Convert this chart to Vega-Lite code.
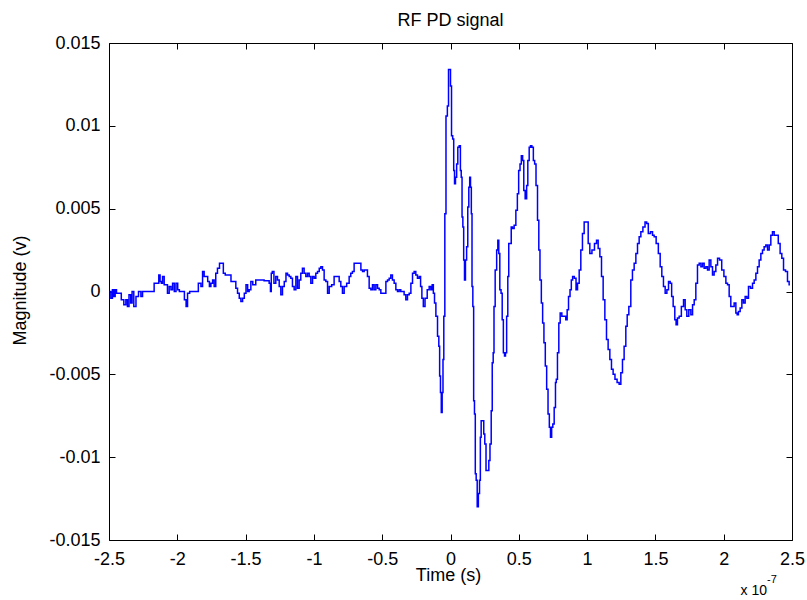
{
  "$schema": "https://vega.github.io/schema/vega-lite/v6.json",
  "width": 683,
  "height": 497,
  "autosize": {"type": "none"},
  "padding": {"left": 109, "top": 43, "right": 15, "bottom": 60},
  "background": "white",
  "title": {"text": "RF PD signal", "fontSize": 18, "font": "Liberation Sans", "fontWeight": "normal", "color": "black", "baseline": "alphabetic", "offset": 15, "dy": 25, "anchor": "middle"},
  "config": {
    "view": {"stroke": "black", "strokeWidth": 1},
    "axis": {"domain": false, "grid": false, "tickColor": "black", "tickSize": -6, "tickWidth": 1, "labelFont": "Liberation Sans", "labelFontSize": 18, "labelColor": "black", "titleFont": "Liberation Sans", "titleFontSize": 18, "titleFontWeight": "normal", "titleColor": "black", "labelFlush": false, "labelOverlap": false, "labelBound": false}
  },
  "layer": [
    {
      "data": {"values": [
        {"t":-2.493,"v":0.0},{"t":-2.48,"v":-0.0004},{"t":-2.47,"v":0.0001},{"t":-2.46,"v":-0.0003},{"t":-2.45,"v":0.0001},{"t":-2.44,"v":-0.0001},{"t":-2.42,"v":-0.0001},{"t":-2.4,"v":-0.0005},{"t":-2.383,"v":-0.0008},{"t":-2.37,"v":-0.0005},{"t":-2.36,"v":-0.0009},{"t":-2.347,"v":-0.0002},{"t":-2.335,"v":-0.0007},{"t":-2.327,"v":0.0},{"t":-2.31,"v":-0.0009},{"t":-2.295,"v":-0.0003},{"t":-2.273,"v":0.0},{"t":-2.26,"v":-0.0003},{"t":-2.249,"v":0.0},{"t":-2.176,"v":0.0},{"t":-2.163,"v":0.0005},{"t":-2.139,"v":0.0005},{"t":-2.132,"v":0.001},{"t":-2.12,"v":0.0006},{"t":-2.114,"v":0.0005},{"t":-2.102,"v":0.0009},{"t":-2.09,"v":0.0004},{"t":-2.078,"v":0.0004},{"t":-2.066,"v":-0.0001},{"t":-2.053,"v":0.0003},{"t":-2.04,"v":0.0001},{"t":-2.029,"v":0.0005},{"t":-2.015,"v":0.0},{"t":-2.004,"v":0.0005},{"t":-1.99,"v":0.0001},{"t":-1.98,"v":0.0},{"t":-1.956,"v":0.0},{"t":-1.94,"v":-0.0005},{"t":-1.931,"v":-0.0009},{"t":-1.919,"v":-0.0001},{"t":-1.9,"v":0.0},{"t":-1.858,"v":0.0},{"t":-1.834,"v":0.0005},{"t":-1.82,"v":0.0003},{"t":-1.81,"v":0.0012},{"t":-1.797,"v":0.0009},{"t":-1.785,"v":0.0009},{"t":-1.77,"v":0.0006},{"t":-1.76,"v":0.0003},{"t":-1.748,"v":0.0005},{"t":-1.735,"v":0.0007},{"t":-1.725,"v":0.0003},{"t":-1.712,"v":0.0011},{"t":-1.7,"v":0.0014},{"t":-1.682,"v":0.0017},{"t":-1.668,"v":0.0017},{"t":-1.658,"v":0.0011},{"t":-1.64,"v":0.001},{"t":-1.614,"v":0.001},{"t":-1.6,"v":0.0006},{"t":-1.578,"v":0.0006},{"t":-1.565,"v":0.0002},{"t":-1.553,"v":-0.0001},{"t":-1.54,"v":-0.0004},{"t":-1.529,"v":-0.0006},{"t":-1.515,"v":-0.0004},{"t":-1.504,"v":-0.0001},{"t":-1.49,"v":0.0004},{"t":-1.48,"v":0.0},{"t":-1.468,"v":0.0001},{"t":-1.455,"v":0.0006},{"t":-1.44,"v":0.0004},{"t":-1.431,"v":0.0004},{"t":-1.42,"v":0.0007},{"t":-1.407,"v":0.0007},{"t":-1.395,"v":0.0007},{"t":-1.334,"v":0.00065},
        {"t":-1.321,"v":0.0005},{"t":-1.315,"v":0.0},{"t":-1.309,"v":0.0011},{"t":-1.3,"v":0.0012},{"t":-1.285,"v":0.0005},{"t":-1.273,"v":0.0009},{"t":-1.26,"v":0.0007},{"t":-1.248,"v":0.0003},{"t":-1.236,"v":-0.0002},{"t":-1.224,"v":0.0003},{"t":-1.21,"v":0.0006},{"t":-1.199,"v":0.0011},{"t":-1.187,"v":0.001},{"t":-1.175,"v":0.0009},{"t":-1.163,"v":0.0008},{"t":-1.151,"v":0.0003},{"t":-1.138,"v":0.0001},{"t":-1.126,"v":0.0009},{"t":-1.114,"v":0.0002},{"t":-1.102,"v":0.0007},{"t":-1.09,"v":0.0011},{"t":-1.078,"v":0.0014},{"t":-1.065,"v":0.0011},{"t":-1.053,"v":0.0009},{"t":-1.04,"v":0.0011},{"t":-1.029,"v":0.0009},{"t":-1.016,"v":0.0005},{"t":-1.004,"v":0.0009},{"t":-0.992,"v":0.0008},{"t":-0.98,"v":0.0011},{"t":-0.967,"v":0.0012},{"t":-0.955,"v":0.0014},{"t":-0.943,"v":0.0015},{"t":-0.931,"v":0.0013},{"t":-0.919,"v":0.0007},{"t":-0.906,"v":0.0006},{"t":-0.894,"v":-0.0001},{"t":-0.882,"v":0.0003},{"t":-0.858,"v":0.0004},{"t":-0.846,"v":0.0009},{"t":-0.821,"v":0.0009},{"t":-0.809,"v":0.0006},{"t":-0.797,"v":0.0003},{"t":-0.785,"v":-0.0001},{"t":-0.772,"v":0.0003},{"t":-0.748,"v":0.0005},{"t":-0.736,"v":0.0009},{"t":-0.724,"v":0.0011},{"t":-0.712,"v":0.0012},{"t":-0.699,"v":0.0017},{"t":-0.662,"v":0.0017},{"t":-0.65,"v":0.0013},{"t":-0.638,"v":0.0012},{"t":-0.626,"v":0.0013},{"t":-0.614,"v":0.0013},{"t":-0.602,"v":0.0009},{"t":-0.589,"v":0.0002},{"t":-0.577,"v":0.0001},{"t":-0.565,"v":0.0004},{"t":-0.553,"v":0.0001},{"t":-0.54,"v":0.0004},{"t":-0.528,"v":0.0002},{"t":-0.516,"v":0.0001},{"t":-0.504,"v":-0.0001},{"t":-0.479,"v":-0.0001},{"t":-0.467,"v":0.0006},{"t":-0.455,"v":0.0007},{"t":-0.443,"v":0.0008},{"t":-0.431,"v":0.001},{"t":-0.419,"v":0.0007},{"t":-0.406,"v":0.0005},{"t":-0.394,"v":0.0001},{"t":-0.382,"v":0.0},{"t":-0.37,"v":0.0001},{"t":-0.358,"v":0.0},{"t":-0.346,"v":0.0},{"t":-0.333,"v":-0.0002},{"t":-0.321,"v":-0.0005},{"t":-0.309,"v":-0.0002},{"t":-0.296,"v":-0.0001},{"t":-0.284,"v":0.0005},{"t":-0.272,"v":0.0011},{"t":-0.26,"v":0.0012},{"t":-0.248,"v":0.001},{"t":-0.236,"v":0.0008},
        {"t":-0.223,"v":0.0009},{"t":-0.215,"v":0.0003},{"t":-0.204,"v":-0.0004},{"t":-0.194,"v":-0.0009},{"t":-0.179,"v":-0.0004},{"t":-0.162,"v":0.0001},{"t":-0.15,"v":0.0003},{"t":-0.138,"v":0.0001},{"t":-0.13,"v":0.0004},{"t":-0.121,"v":-0.0001},{"t":-0.113,"v":-0.0007},{"t":-0.101,"v":-0.0015},{"t":-0.089,"v":-0.0027},{"t":-0.082,"v":-0.0033},{"t":-0.077,"v":-0.0051},{"t":-0.07,"v":-0.0061},{"t":-0.065,"v":-0.0073},{"t":-0.057,"v":-0.0061},{"t":-0.053,"v":-0.0041},{"t":-0.045,"v":-0.0015},{"t":-0.038,"v":0.0047},{"t":-0.028,"v":0.0106},{"t":-0.018,"v":0.0112},{"t":-0.011,"v":0.0134},{"t":-0.004,"v":0.0134},{"t":0.004,"v":0.0124},{"t":0.011,"v":0.0094},{"t":0.021,"v":0.0092},{"t":0.026,"v":0.0073},{"t":0.033,"v":0.0065},{"t":0.04,"v":0.0069},{"t":0.05,"v":0.0077},{"t":0.057,"v":0.0087},{"t":0.07,"v":0.0088},{"t":0.075,"v":0.0073},{"t":0.082,"v":0.0069},{"t":0.087,"v":0.0045},{"t":0.094,"v":0.0039},{"t":0.099,"v":0.0019},{"t":0.106,"v":0.0007},{"t":0.113,"v":0.0019},{"t":0.123,"v":0.0027},{"t":0.13,"v":0.0051},{"t":0.138,"v":0.0063},{"t":0.143,"v":0.0069},{"t":0.15,"v":0.0063},{"t":0.155,"v":0.0047},{"t":0.16,"v":0.0003},{"t":0.167,"v":-0.0009},{"t":0.172,"v":-0.0066},{"t":0.179,"v":-0.0074},{"t":0.184,"v":-0.011},{"t":0.192,"v":-0.0114},{"t":0.199,"v":-0.013},{"t":0.209,"v":-0.0122},{"t":0.216,"v":-0.0114},{"t":0.221,"v":-0.0088},{"t":0.228,"v":-0.0078},{"t":0.24,"v":-0.0078},{"t":0.247,"v":-0.0086},{"t":0.255,"v":-0.0092},{"t":0.265,"v":-0.0108},{"t":0.277,"v":-0.0108},{"t":0.284,"v":-0.0102},{"t":0.294,"v":-0.0092},{"t":0.302,"v":-0.0072},{"t":0.309,"v":-0.0043},{"t":0.316,"v":-0.0037},{"t":0.321,"v":-0.0009},{"t":0.333,"v":0.0013},{"t":0.343,"v":0.0025},{"t":0.35,"v":0.0031},{"t":0.357,"v":0.0023},{"t":0.365,"v":0.0001},{"t":0.375,"v":-0.0001},{"t":0.382,"v":-0.0017},{"t":0.392,"v":-0.0037},{"t":0.399,"v":-0.0039},{"t":0.406,"v":-0.0037},{"t":0.416,"v":-0.0015},{"t":0.423,"v":0.0009},{"t":0.43,"v":0.0029},{"t":0.441,"v":0.0029},{"t":0.448,"v":0.0039},{"t":0.46,"v":0.0038},{"t":0.472,"v":0.004},{"t":0.485,"v":0.0049},{"t":0.494,"v":0.0059},{"t":0.504,"v":0.0073},{"t":0.514,"v":0.0077},{"t":0.523,"v":0.0082},{"t":0.533,"v":0.0079},{"t":0.54,"v":0.0061},{"t":0.553,"v":0.0056},{"t":0.562,"v":0.0064},{"t":0.57,"v":0.0079},{"t":0.582,"v":0.0087},{"t":0.589,"v":0.0088},{"t":0.602,"v":0.0087},{"t":0.611,"v":0.0079},{"t":0.621,"v":0.0077},{"t":0.631,"v":0.0064},{"t":0.643,"v":0.0043},{"t":0.65,"v":0.0025},{"t":0.66,"v":0.0007},{"t":0.67,"v":-0.0007},{"t":0.679,"v":-0.0019},{"t":0.689,"v":-0.0031},{"t":0.699,"v":-0.0045},{"t":0.709,"v":-0.0059},{"t":0.719,"v":-0.0074},{"t":0.728,"v":-0.0082},{"t":0.736,"v":-0.0088},{"t":0.745,"v":-0.0082},{"t":0.753,"v":-0.008},{"t":0.765,"v":-0.007},{"t":0.772,"v":-0.0055},
        {"t":0.777,"v":-0.0053},{"t":0.789,"v":-0.0037},{"t":0.797,"v":-0.0019},{"t":0.809,"v":-0.0013},{"t":0.821,"v":-0.0015},{"t":0.838,"v":-0.0015},{"t":0.85,"v":-0.0017},{"t":0.858,"v":-0.0011},{"t":0.87,"v":-0.0003},{"t":0.88,"v":0.0001},{"t":0.889,"v":0.0007},{"t":0.899,"v":0.0009},{"t":0.914,"v":0.0008},{"t":0.924,"v":0.0001},{"t":0.936,"v":0.0005},{"t":0.948,"v":0.0013},{"t":0.96,"v":0.0025},{"t":0.972,"v":0.0035},{"t":0.985,"v":0.0042},{"t":1.002,"v":0.0042},{"t":1.014,"v":0.0029},{"t":1.026,"v":0.0023},{"t":1.045,"v":0.0025},{"t":1.063,"v":0.0029},{"t":1.075,"v":0.0031},{"t":1.087,"v":0.0026},{"t":1.1,"v":0.0021},{"t":1.111,"v":0.0009},{"t":1.124,"v":-0.0005},{"t":1.136,"v":-0.0017},{"t":1.148,"v":-0.0029},{"t":1.16,"v":-0.0035},{"t":1.173,"v":-0.0041},{"t":1.184,"v":-0.0047},{"t":1.197,"v":-0.005},{"t":1.211,"v":-0.0053},{"t":1.228,"v":-0.0055},{"t":1.241,"v":-0.0056},{"t":1.253,"v":-0.0049},{"t":1.265,"v":-0.0041},{"t":1.277,"v":-0.0033},{"t":1.29,"v":-0.0021},{"t":1.297,"v":-0.0014},{"t":1.314,"v":-0.0009},{"t":1.326,"v":0.0007},{"t":1.338,"v":0.0013},{"t":1.351,"v":0.0017},{"t":1.363,"v":0.0023},{"t":1.375,"v":0.0029},{"t":1.387,"v":0.0033},{"t":1.4,"v":0.0036},{"t":1.417,"v":0.0039},{"t":1.431,"v":0.0042},{"t":1.441,"v":0.0041},{"t":1.455,"v":0.0035},{"t":1.473,"v":0.0036},{"t":1.485,"v":0.0034},{"t":1.497,"v":0.0033},{"t":1.514,"v":0.0029},{"t":1.529,"v":0.0023},{"t":1.541,"v":0.0015},{"t":1.553,"v":0.0009},{"t":1.565,"v":0.0003},{"t":1.578,"v":-0.0001},{"t":1.59,"v":0.0001},{"t":1.602,"v":0.0006},{"t":1.614,"v":0.0005},{"t":1.624,"v":-0.0003},{"t":1.636,"v":-0.0009},{"t":1.648,"v":-0.0017},{"t":1.655,"v":-0.002},{"t":1.668,"v":-0.0016},{"t":1.68,"v":-0.0015},{"t":1.7,"v":-0.0009},{"t":1.712,"v":-0.0005},{"t":1.724,"v":-0.0011},{"t":1.736,"v":-0.0015},{"t":1.753,"v":-0.0011},{"t":1.766,"v":-0.0014},{"t":1.778,"v":-0.0008},{"t":1.79,"v":-0.0005},{"t":1.802,"v":0.0005},{"t":1.814,"v":0.0016},{"t":1.827,"v":0.0017},{"t":1.839,"v":0.0015},{"t":1.851,"v":0.0017},{"t":1.863,"v":0.0014},{"t":1.876,"v":0.0015},{"t":1.887,"v":0.0013},{"t":1.9,"v":0.0019},{"t":1.912,"v":0.0015},{"t":1.924,"v":0.001},{"t":1.936,"v":0.0012},{"t":1.949,"v":0.0016},{"t":1.961,"v":0.002},{"t":1.978,"v":0.0019},{"t":1.993,"v":0.0013},{"t":2.01,"v":0.0009},{"t":2.022,"v":0.0005},{"t":2.034,"v":0.0004},{"t":2.046,"v":-0.0003},{"t":2.058,"v":-0.0009},{"t":2.07,"v":-0.0009},{"t":2.083,"v":-0.0007},{"t":2.095,"v":-0.0013},{"t":2.102,"v":-0.0014},{"t":2.114,"v":-0.0012},{"t":2.127,"v":-0.001},{"t":2.139,"v":-0.0005},{"t":2.151,"v":-0.0007},{"t":2.163,"v":-0.0003},{"t":2.176,"v":-0.0004},{"t":2.187,"v":0.0003},{"t":2.205,"v":0.0002},{"t":2.217,"v":0.0005},{"t":2.229,"v":0.0007},{"t":2.242,"v":0.0011},{"t":2.253,"v":0.0015},{"t":2.266,"v":0.0019},{"t":2.278,"v":0.0023},{"t":2.29,"v":0.0025},{"t":2.302,"v":0.0027},{"t":2.315,"v":0.0028},{"t":2.327,"v":0.0025},{"t":2.339,"v":0.0028},{"t":2.351,"v":0.0034},{"t":2.363,"v":0.0036},{"t":2.376,"v":0.0034},{"t":2.392,"v":0.0034},{"t":2.407,"v":0.0029},{"t":2.419,"v":0.0023},{"t":2.432,"v":0.002},{"t":2.444,"v":0.0013},{"t":2.461,"v":0.0012},{"t":2.473,"v":0.0006},{"t":2.485,"v":0.0004}
      ]},
      "mark": {"type": "line", "color": "#0000ff", "strokeWidth": 1.5, "interpolate": "step", "clip": true},
      "encoding": {
        "x": {"field": "t", "type": "quantitative", "scale": {"domain": [-2.5, 2.5], "nice": false, "zero": false},
              "axis": {"orient": "bottom", "values": [-2.5, -2, -1.5, -1, -0.5, 0, 0.5, 1, 1.5, 2, 2.5], "labelExpr": "'' + datum.value", "labelBaseline": "alphabetic", "labelPadding": 30, "title": "Time (s)", "titleX": 339, "titleY": 40, "titleBaseline": "alphabetic"}},
        "y": {"field": "v", "type": "quantitative", "scale": {"domain": [-0.015, 0.015], "nice": false, "zero": false},
              "axis": {"orient": "left", "values": [-0.015, -0.01, -0.005, 0, 0.005, 0.01, 0.015], "labelExpr": "'' + datum.value", "labelAlign": "right", "labelBaseline": "middle", "labelPadding": 15, "title": "Magnitude (v)", "titleX": -84, "titleY": 247, "titleBaseline": "alphabetic", "titleAngle": -90}}
      }
    },
    {
      "data": {"values": [{"s": "x 10"}]},
      "mark": {"type": "text", "align": "right", "baseline": "alphabetic", "dx": -25, "dy": 55, "font": "Liberation Sans", "fontSize": 14, "color": "black"},
      "encoding": {
        "x": {"datum": 2.5, "type": "quantitative", "axis": {"orient": "top", "values": [-2.5, -2, -1.5, -1, -0.5, 0, 0.5, 1, 1.5, 2, 2.5], "labels": false, "title": null}},
        "y": {"datum": -0.015, "type": "quantitative", "axis": {"orient": "right", "values": [-0.015, -0.01, -0.005, 0, 0.005, 0.01, 0.015], "labels": false, "title": null}},
        "text": {"field": "s"}
      }
    },
    {
      "data": {"values": [{"s": "-7"}]},
      "mark": {"type": "text", "align": "left", "baseline": "alphabetic", "dx": -25, "dy": 43, "font": "Liberation Sans", "fontSize": 11, "color": "black"},
      "encoding": {
        "x": {"datum": 2.5, "type": "quantitative", "axis": null},
        "y": {"datum": -0.015, "type": "quantitative", "axis": null},
        "text": {"field": "s"}
      }
    }
  ],
  "resolve": {"axis": {"x": "independent", "y": "independent"}}
}
